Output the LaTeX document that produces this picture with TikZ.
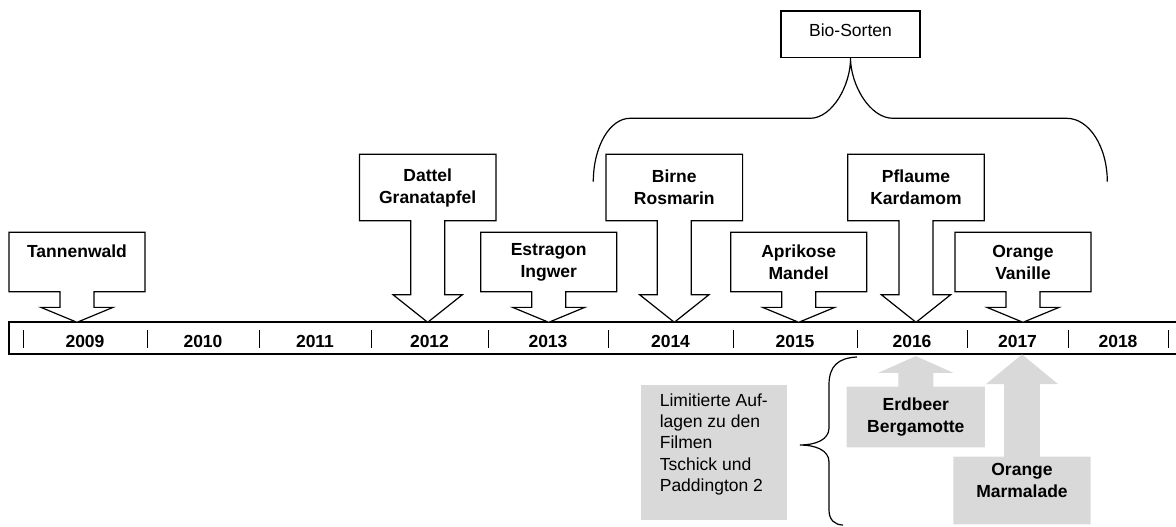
\documentclass[tikz,border=0pt]{standalone}
\usepackage{fontspec}
\setmainfont{Liberation Sans}
\usetikzlibrary{shapes}
\definecolor{boxgray}{HTML}{D9D9D9}

\begin{document}
\begin{tikzpicture}[x=1pt,y=-1pt]
    \tikzstyle{every node}=[font=\fontsize{17.5}{22}\selectfont\bfseries,inner sep=0pt,align=center]
    \tikzstyle{callout}=[arrow box,arrow box head indent=0pt,line width=1.2pt]
    \tikzstyle{lowbox}=[callout,draw,fill=white,minimum width=136pt,minimum height=59.4pt,
      arrow box shaft width=34pt,arrow box head extend=19pt,arrow box tip angle=135,arrow box arrows={south:30pt}]
    \tikzstyle{highbox}=[callout,draw,fill=white,minimum width=136.6pt,minimum height=66.4pt,
      arrow box shaft width=34pt,arrow box head extend=17.7pt,arrow box tip angle=103,arrow box arrows={south:101pt}]
    \tikzstyle{greylow}=[callout,fill=boxgray,minimum width=138.3pt,minimum height=60.6pt,
      arrow box shaft width=35pt,arrow box head extend=20pt,arrow box tip angle=132,arrow box arrows={north:30pt}]
    \tikzstyle{greyhigh}=[callout,fill=boxgray,minimum width=137.4pt,minimum height=67.6pt,
      arrow box shaft width=35.7pt,arrow box head extend=18.3pt,arrow box tip angle=101,arrow box arrows={north:101.7pt}]
    \tikzstyle{brace}=[line width=1.2pt]

    \useasboundingbox (0,0) rectangle (1176,527);

    % timeline
    \draw[line width=1.6pt] (1176,322) -| (9,354) -- (1176,354);
    \foreach \x in {23,147,259,371,488,608,733,857,967,1068,1168}
      \draw[line width=1pt] (\x,330) -- (\x,348);
    \foreach \x/\yr in {85/2009,203/2010,315/2011,429.5/2012,548/2013,670.5/2014,795/2015,912/2016,1017.5/2017,1118/2018}
      \node (y\yr) at (\x,341) {\yr};

    % sorts
    \node[lowbox] (tannenwald) at (77,262) {Tannenwald\\\mbox{}};
    \node[highbox] (dattel) at (427.7,187.5) {Dattel\\Granatapfel};
    \node[lowbox] (estragon) at (548.7,262) {Estragon\\Ingwer};
    \node[highbox] (birne) at (674.3,187.5) {Birne\\Rosmarin};
    \node[lowbox] (aprikose) at (798.7,262) {Aprikose\\Mandel};
    \node[highbox] (pflaume) at (916,187.5) {Pflaume\\Kardamom};
    \node[lowbox] (vanille) at (1023,262) {Orange\\Vanille};

    % organic
    \node[draw,line width=1.2pt,font=\fontsize{17.5}{22}\selectfont,minimum width=139pt,minimum height=46.7pt,text depth=9pt] (bio) at (850.5,34.3) {Bio-Sorten};
    \coordinate (bioleft) at (593.3,181.7);
    \coordinate (bioright) at (1107.3,181.7);
    \draw[brace] (bioleft) .. controls (593.3,146.7) and (609.7,118.3) .. (630,118.3) -- (810,118.3)
      .. controls (832.5,118.3) and (850.7,84.8) .. (bio.south)
      .. controls (850.7,84.8) and (869.7,118.3) .. (893,118.3) -- (1066.7,118.3)
      .. controls (1089.1,118.3) and (1107.3,146.7) .. (bioright);

    % limited editions
    \node[fill=boxgray,font=\fontsize{17.5}{21.3}\selectfont,align=left,minimum width=145.7pt,minimum height=135pt,text depth=20pt] (limited) at (713.8,452.5)
      {Limitierte Auf-\\lagen zu den\\Filmen\\Tschick und\\Paddington 2};
    \coordinate (limtop) at (857,357);
    \coordinate (limtip) at (800,445);
    \coordinate (limbottom) at (843,525);
    \draw[brace] (limtop) .. controls (838,358) and (829,366) .. (829,385) -- (829,428)
      .. controls (829,440) and (815,445) .. (limtip)
      .. controls (815,445) and (829,450) .. (829,462) -- (829,510)
      .. controls (829,520) and (835,525) .. (limbottom);
    \node[greylow] (erdbeer) at (915.8,417) {Erdbeer\\Bergamotte};
    \node[greyhigh,text depth=21pt] (marmalade) at (1022,490.5) {Orange\\Marmalade};
\end{tikzpicture}
\end{document}
